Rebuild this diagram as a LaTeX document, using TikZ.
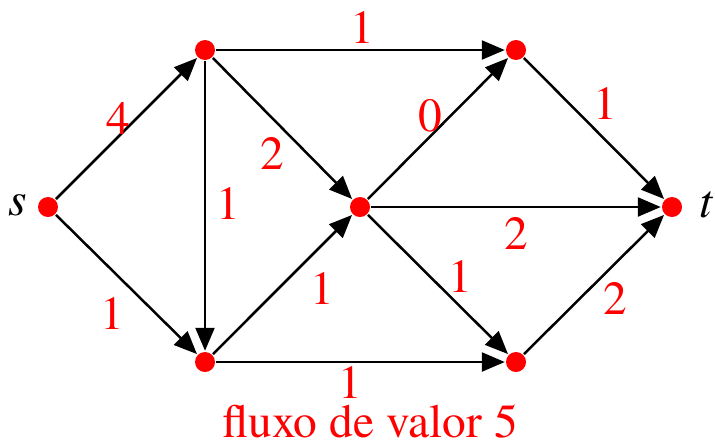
\documentclass[tikz,border=0pt]{standalone}
\usepackage{fontspec}
\setmainfont{texgyretermes}[Extension=.otf, UprightFont=*-regular, ItalicFont=*-italic]
\usetikzlibrary{arrows.meta}
\tikzset{every picture/.style={line width=0.05cm}}
\tikzset{
  vert/.style={circle,fill=red,inner sep=0pt,minimum size=0.4cm},
  flow/.style={red,inner sep=1pt,font=\fontsize{27}{30}\selectfont},
  term/.style={font=\fontsize{27}{30}\selectfont\itshape},
  arc/.style={-{Triangle[length=0.46cm,width=0.38cm]}}
}

\begin{document}
\begin{tikzpicture}[x=0.02cm,y=-0.02cm]
    \useasboundingbox (0,0) rectangle (715,447);

    % Vertices of the network
    \node[vert] (s) at (48,207) {};
    \node[vert] (a) at (205,50) {};
    \node[vert] (b) at (205,362) {};
    \node[vert] (c) at (360,207) {};
    \node[vert] (d) at (516,50) {};
    \node[vert] (e) at (516,362) {};
    \node[vert] (t) at (672,207) {};
    \node[term] (sname) at (18,205) {s};
    \node[term] (tname) at (706,205) {t};

    % Arcs
    \draw[arc] (s) -- (a);
    \draw[arc] (s) -- (b);
    \draw[arc] (a) -- (d);
    \draw[arc] (a) -- (b);
    \draw[arc] (a) -- (c);
    \draw[arc] (b) -- (c);
    \draw[arc] (b) -- (e);
    \draw[arc] (c) -- (d);
    \draw[arc] (c) -- (t);
    \draw[arc] (c) -- (e);
    \draw[arc] (d) -- (t);
    \draw[arc] (e) -- (t);

    % Flow values on the arcs
    \node[flow] (fsa) at (118,118) {4};
    \node[flow] (fsb) at (112,313) {1};
    \node[flow] (fad) at (362,27) {1};
    \node[flow] (fab) at (228,203) {1};
    \node[flow] (fac) at (272,153) {2};
    \node[flow] (fbc) at (322,288) {1};
    \node[flow] (fbe) at (350,382) {1};
    \node[flow] (fcd) at (430,116) {0};
    \node[flow] (fct) at (516,233) {2};
    \node[flow] (fce) at (460,276) {1};
    \node[flow] (fdt) at (605,103) {1};
    \node[flow] (fet) at (615,298) {2};

    % Caption
    \node[flow] (caption) at (370,421) {fluxo de valor 5};
\end{tikzpicture}
\end{document}
